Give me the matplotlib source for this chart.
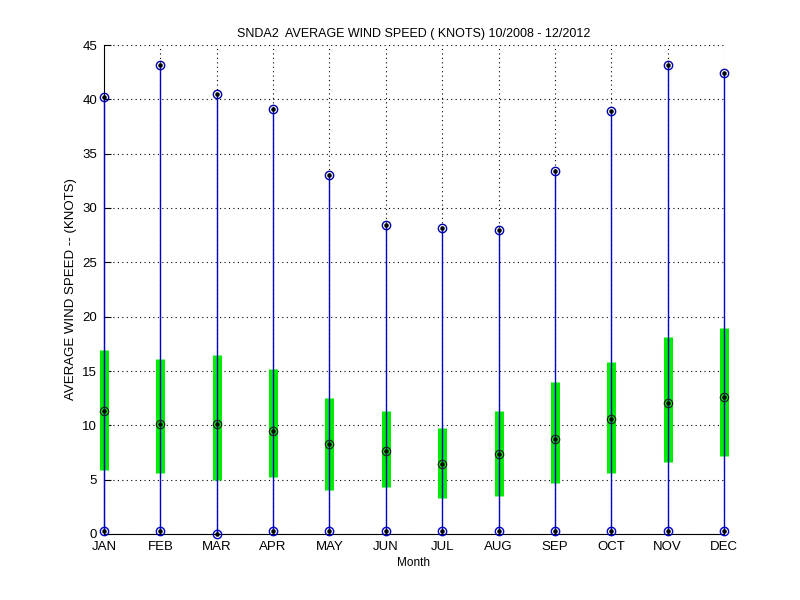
import numpy as np
import matplotlib
matplotlib.use("Agg")
import matplotlib.pyplot as plt

months = ["JAN", "FEB", "MAR", "APR", "MAY", "JUN", "JUL", "AUG", "SEP", "OCT", "NOV", "DEC"]
max_speed = [40.2, 43.2, 40.5, 39.1, 33.0, 28.4, 28.2, 28.0, 33.4, 38.9, 43.2, 42.4]
min_speed = [0.25, 0.25, 0.0, 0.25, 0.25, 0.25, 0.25, 0.25, 0.25, 0.25, 0.25, 0.25]
mean_speed = [11.3, 10.1, 10.1, 9.5, 8.25, 7.6, 6.4, 7.4, 8.7, 10.6, 12.1, 12.6]
band_low = [5.85, 5.65, 5.0, 5.2, 4.05, 4.35, 3.35, 3.5, 4.7, 5.65, 6.65, 7.2]
band_high = [16.9, 16.1, 16.5, 15.2, 12.5, 11.3, 9.75, 11.3, 14.0, 15.8, 18.1, 19.0]

plt.rcParams['font.family'] = ['Liberation Sans', 'DejaVu Sans']

x = np.arange(1, 13)
fig = plt.figure(figsize=(8, 6), dpi=100)
ax = fig.add_axes([0.13, 0.11, 0.775, 0.815])

# std band
ax.vlines(x, band_low, band_high, colors='#00ee00', linewidth=6.5, zorder=2, clip_on=False)
# min-max range
ax.vlines(x, min_speed, max_speed, colors='#0000cc', linewidth=1, zorder=3, clip_on=False)
ax.plot(x, max_speed, 'o', mfc='none', mec='#0000aa', ms=6, mew=1, zorder=4, clip_on=False)
ax.plot(x, min_speed, 'o', mfc='none', mec='#0000cc', ms=6, mew=1, zorder=4, clip_on=False)
ax.plot(x, mean_speed, 'o', mfc='none', mec='#222222', ms=6, mew=0.9, zorder=4, clip_on=False)
for vals in (max_speed, min_speed, mean_speed):
    ax.plot(x, vals, '.', color='black', ms=4.5, zorder=5, clip_on=False)

ax.set_xlim(1, 12)
ax.set_ylim(0, 45)
ax.set_xticks(x)
ax.set_xticklabels(months)
ax.set_yticks(np.arange(0, 46, 5))
ax.grid(True, color='black', linestyle=(0, (1, 3)), linewidth=0.8)
ax.set_axisbelow(True)
for s in ('top', 'right'):
    ax.spines[s].set_visible(False)
ax.tick_params(direction='in', length=5, labelsize=9.5, top=False, right=False)
ax.xaxis.set_tick_params(pad=5)
ax.yaxis.set_tick_params(pad=5)

ax.set_title("SNDA2  AVERAGE WIND SPEED ( KNOTS) 10/2008 - 12/2012", fontsize=9)
ax.set_ylabel("AVERAGE WIND SPEED -- (KNOTS)", fontsize=9.5)
ax.set_xlabel("Month", fontsize=8.5, labelpad=3)

fig.savefig("out.png", dpi=100)
